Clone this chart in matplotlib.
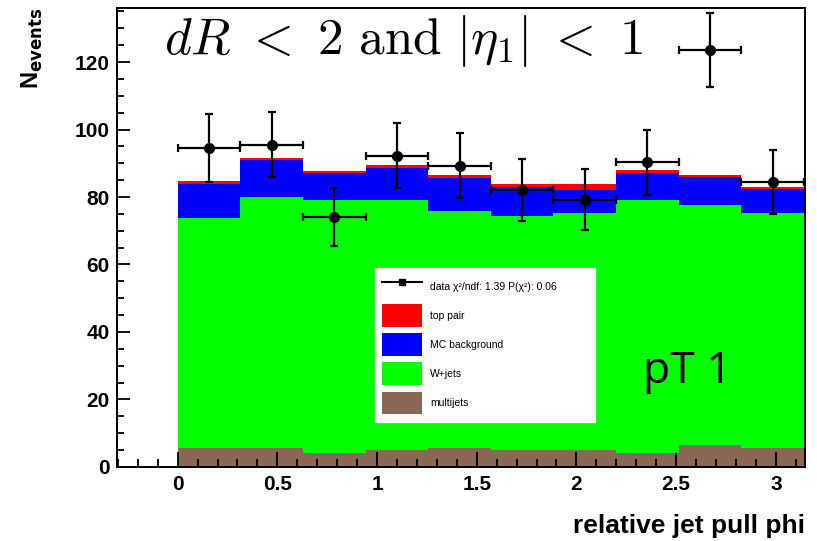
import numpy as np
import matplotlib
matplotlib.use('Agg')
import matplotlib.pyplot as plt
from matplotlib.patches import Patch
from matplotlib.lines import Line2D
from matplotlib.ticker import MultipleLocator

plt.rcParams['font.family'] = ['Liberation Sans', 'DejaVu Sans']

# 10 bins over [0, pi]
nbins = 10
edges = np.linspace(0, np.pi, nbins + 1)
centers = 0.5 * (edges[:-1] + edges[1:])

# stacked backgrounds (bottom to top)
multijets = [5.6, 5.6, 4.2, 4.9, 5.6, 5.1, 5.1, 4.2, 6.5, 5.6]
wjets = [68.2, 74.3, 75.0, 74.3, 70.4, 69.4, 70.2, 75.0, 71.1, 69.7]
mc_bkg = [10.2, 11.2, 8.0, 9.5, 9.6, 8.5, 6.9, 7.9, 8.2, 7.1]
top_pair = [0.7, 0.4, 0.6, 0.7, 0.8, 0.9, 1.7, 0.8, 0.6, 0.6]

# data points
data = [94.6, 95.5, 74.1, 92.3, 89.3, 82.0, 79.2, 90.3, 123.7, 84.4]
data_err = [10.0, 9.7, 8.6, 9.6, 9.7, 9.2, 9.1, 9.6, 11.0, 9.5]

fig = plt.figure(figsize=(8.17, 5.41), dpi=100)
ax = fig.add_axes([0.143, 0.137, 0.842, 0.848])

width = edges[1] - edges[0]
bottom = np.zeros(nbins)
for vals, col in [(multijets, '#8b6654'), (wjets, '#00ff00'),
                  (mc_bkg, '#0000ff'), (top_pair, '#ff0000')]:
    ax.bar(edges[:-1], vals, width=width, bottom=bottom, align='edge',
           color=col, linewidth=0, zorder=1)
    bottom = bottom + np.array(vals)

ax.errorbar(centers, data, yerr=data_err, xerr=width / 2, fmt='o', color='black',
            ms=7, elinewidth=1.6, capsize=3, capthick=1.6, zorder=5)

ax.set_xlim(-0.305, 3.145)
ax.set_ylim(0, 136)

ax.xaxis.set_major_locator(MultipleLocator(0.5))
ax.xaxis.set_minor_locator(MultipleLocator(0.1))
ax.yaxis.set_major_locator(MultipleLocator(20))
ax.yaxis.set_minor_locator(MultipleLocator(5))
ax.tick_params(axis='both', which='both', direction='in', top=False, right=False,
               width=1.3, labelsize=15)
ax.tick_params(axis='x', which='major', length=11, pad=6)
ax.tick_params(axis='x', which='minor', length=6)
ax.tick_params(axis='y', which='major', length=9, pad=5)
ax.tick_params(axis='y', which='minor', length=5)
for lab in ax.get_yticklabels():
    lab.set_fontweight('bold')
ax.set_xticks([0, 0.5, 1, 1.5, 2, 2.5, 3])
ax.set_xticklabels(['0', '0.5', '1', '1.5', '2', '2.5', '3'], fontweight='bold')

for s in ax.spines.values():
    s.set_linewidth(1.4)
ax.spines['right'].set_zorder(0.5)

ax.set_xlabel('relative jet pull phi', fontsize=19, fontweight='bold', loc='right',
              labelpad=14)
fig.text(0.04, 0.985, r'N$_{\bf events}$', rotation=90, ha='center', va='top',
         fontsize=17, fontweight='bold', math_fontfamily='dejavusans')

ax.text(0.068, 0.99, r'$dR\ <\ 2\ \mathrm{and}\ |\eta_1|\ <\ 1$', transform=ax.transAxes,
        fontsize=37, ha='left', va='top', math_fontfamily='cm')
ax.text(0.765, 0.183, 'pT 1', transform=ax.transAxes, fontsize=32,
        family=['Open Sans', 'DejaVu Sans'], ha='left', va='baseline')

handles = [
    Line2D([], [], color='black', marker='s', ms=5, lw=1.5),
    Patch(facecolor='#ff0000'),
    Patch(facecolor='#0000ff'),
    Patch(facecolor='#00ff00'),
    Patch(facecolor='#8b6654'),
]
labels = ['data χ²/ndf: 1.39 P(χ²): 0.06', 'top pair', 'MC background', 'W+jets', 'multijets']
leg = ax.legend(handles, labels, loc='upper left', bbox_to_anchor=(0.375, 0.102, 0.32, 0.332),
                mode='expand', fontsize=7.5, frameon=True, fancybox=False, edgecolor='white',
                framealpha=1, handlelength=3.8, handleheight=3.0, labelspacing=0.6,
                borderpad=0.7, handletextpad=0.8, borderaxespad=0)
leg.set_zorder(4)

fig.savefig('out.png', dpi=100)
